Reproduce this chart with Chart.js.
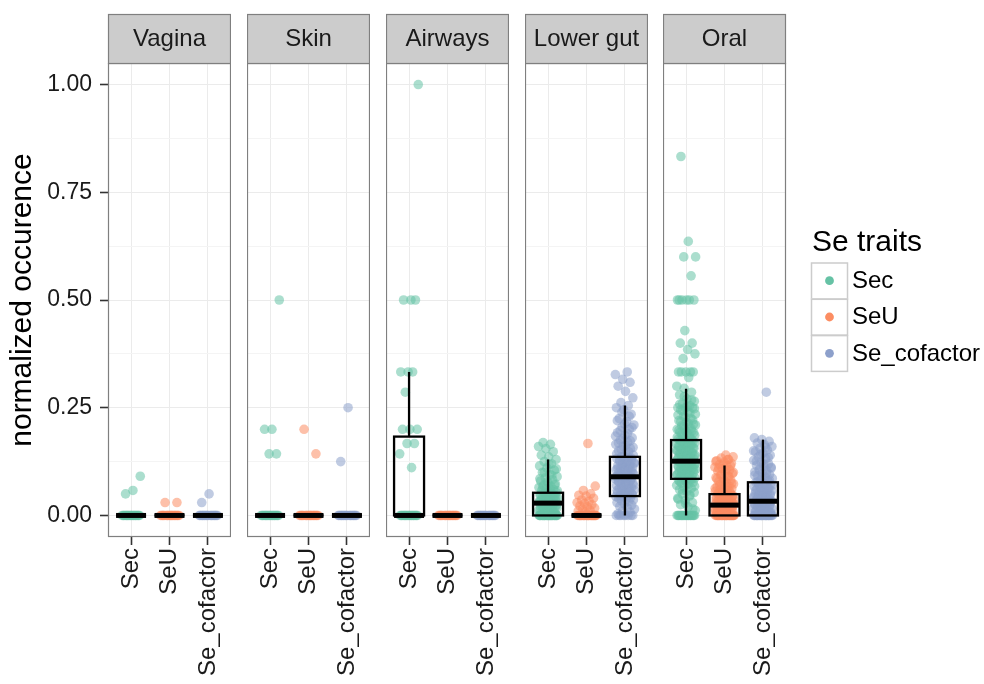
<!DOCTYPE html>
<html><head><meta charset="utf-8">
<script src="https://cdn.jsdelivr.net/npm/chart.js@4.4.1/dist/chart.umd.min.js"></script>
<style>
html,body{margin:0;padding:0;background:#fff;}
#wrap{position:relative;width:984px;height:684px;overflow:hidden;background:#fff;}
#wrap canvas{position:absolute;top:0;}
</style></head><body><div id="wrap"></div>
<script>
// ---------------- data ----------------
const panels = ['Vagina', 'Skin', 'Airways', 'Lower gut', 'Oral'];
const traits = ['Sec', 'SeU', 'Se_cofactor'];
const yMajorTicks = [0, 0.25, 0.5, 0.75, 1];
const yMinorTicks = [0.125, 0.375, 0.625, 0.875];
const yTitle = 'normalized occurence';
const legendTitle = 'Se traits';

// point values (normalized occurence) per facet and trait
const vaginaSec = [0,0,0,0,0,0,0,0,0,0,0,0,0,0,0,0,0,0,0,0, 0.091, 0.058, 0.05];
const vaginaSeU = [0,0,0,0,0,0,0,0,0,0,0,0,0,0,0,0,0,0,0,0, 0.03, 0.03];
const vaginaCof = [0,0,0,0,0,0,0,0,0,0,0,0,0,0,0,0,0,0,0,0, 0.05, 0.03];

const skinSec = [0,0,0,0,0,0,0,0,0,0,0,0,0,0,0,0,0,0,0,0, 0.5, 0.2, 0.2, 0.143, 0.143];
const skinSeU = [0,0,0,0,0,0,0,0,0,0,0,0,0,0,0,0,0,0,0,0, 0.2, 0.143];
const skinCof = [0,0,0,0,0,0,0,0,0,0,0,0,0,0,0,0,0,0,0,0, 0.25, 0.125];

const airwaysSec = [0,0,0,0,0,0,0,0,0,0,0,0,0,0,0,0,0,0,0,0, 1.0, 0.5, 0.5, 0.5, 0.333, 0.333, 0.333, 0.286, 0.2, 0.2, 0.2, 0.167, 0.167, 0.143, 0.111];
const airwaysSeU = [0,0,0,0,0,0,0,0,0,0,0,0,0,0,0,0,0,0,0,0];
const airwaysCof = [0,0,0,0,0,0,0,0,0,0,0,0,0,0,0,0,0,0,0,0];

const gutSec = [0,0,0,0,0,0,0,0,0,0,0,0,0,0,0,0,0,0,0,0,0,0,0,0,0,0,0,0,0,0,
  0.005,0.008,0.01,0.012,0.014,0.016,0.018,0.02,0.021,0.022,0.024,0.025,0.026,0.027,0.028,0.029,
  0.03,0.031,0.033,0.034,0.035,0.036,0.038,0.039,0.04,0.042,0.043,0.045,0.046,0.048,0.05,0.051,0.053,
  0.055,0.058,0.06,0.062,0.065,0.067,0.07,0.073,0.076,0.08,0.083,0.087,0.09,0.095,0.1,0.105,0.11,
  0.115,0.12,0.125,0.13,0.136,0.14,0.148,0.155,0.16,0.165,0.169,
  0.006,0.009,0.011,0.013,0.015,0.017,0.019,0.023,0.026,0.029,0.032,0.035,0.037,0.041,0.044,0.047,
  0.049,0.052,0.057,0.061,0.066,0.071,0.078,0.085,0.093,0.1,0.108,0.118];
const gutSeU = [0,0,0,0,0,0,0,0,0,0,0,0,0,0,0,0,0,0,0,0,0,0,0,0,0,0,0,0,0,0,
  0.008,0.01,0.012,0.015,0.017,0.02,0.022,0.025,0.028,0.03,0.033,0.036,0.04,0.045,0.047,0.05,0.058,0.068,0.167];
const gutCof = [0,0,0,0,0,0,0,0,
  0.004,0.008,0.012,0.015,0.018,0.021,0.024,0.027,0.03,0.032,0.034,0.036,0.038,0.04,0.041,0.043,0.044,0.045,
  0.047,0.049,0.051,0.053,0.055,0.057,0.059,0.061,0.063,0.065,0.067,0.069,0.071,0.073,0.075,0.077,0.079,
  0.081,0.083,0.085,0.086,0.087,0.088,0.089,0.09,
  0.092,0.094,0.096,0.098,0.1,0.102,0.104,0.106,0.108,0.11,0.112,0.114,0.116,0.118,0.12,0.122,0.124,
  0.126,0.128,0.13,0.132,0.134,0.136,
  0.14,0.145,0.15,0.155,0.16,0.165,0.17,0.175,0.18,0.186,0.192,0.2,0.205,0.21,0.218,0.225,0.235,0.245,0.25,0.255,
  0.262,0.273,0.288,0.3,0.309,0.316,0.327,0.333,
  0.046,0.05,0.054,0.058,0.062,0.066,0.07,0.074,0.078,0.082,0.086,0.09,0.093,0.097,0.101,0.105,0.109,
  0.113,0.117,0.121,0.125,0.129,0.133,0.138,0.143,0.148,0.153,0.158,0.163,0.168,0.173,0.178,0.184,
  0.19,0.197,0.204,0.212,0.22,0.23,0.24];

const oralSec = [0,0,0,0,0,0,0,0,0,0,0,0,0,0,0,0,0,0,0,0,
  0.012,0.02,0.025,0.03,0.035,0.04,0.045,0.05,0.053,0.056,0.06,0.063,0.066,0.07,0.072,0.075,0.077,0.08,
  0.082,0.083,0.085,0.087,0.088,0.09,0.091,0.093,0.095,0.096,0.098,0.1,0.1,0.102,0.104,0.105,0.107,0.109,
  0.11,0.111,0.113,0.115,0.116,0.118,0.12,0.121,0.123,0.125,0.125,0.127,0.128,0.13,0.132,0.133,0.135,
  0.137,0.139,0.14,0.142,0.143,0.145,0.147,0.15,0.152,0.154,0.156,0.158,0.16,0.162,0.164,0.166,0.167,
  0.17,0.172,0.175,0.177,0.18,0.183,0.186,0.19,0.193,0.196,0.2,0.2,0.204,0.208,0.212,0.216,0.22,0.225,
  0.23,0.235,0.24,0.245,0.25,0.25,0.25,0.255,0.26,0.265,0.27,0.28,0.286,0.295,0.3,0.32,
  0.333,0.333,0.333,0.333,0.333,0.364,0.375,0.385,0.4,0.4,0.429,
  0.5,0.5,0.5,0.5,0.5,0.5,0.556,0.6,0.6,0.636,0.833,
  0.015,0.028,0.038,0.048,0.058,0.068,0.074,0.079,0.084,0.089,0.094,0.099,0.103,0.106,0.108,0.112,
  0.114,0.117,0.119,0.122,0.124,0.126,0.129,0.131,0.134,0.136,0.138,0.141,0.144,0.146,0.149,0.151,
  0.153,0.155,0.157,0.159,0.161,0.163,0.165,0.168,0.171,0.174,0.176,0.179,0.182,0.185,0.188,0.192,
  0.195,0.198,0.202,0.206,0.21,0.214,0.218,0.222,0.228,0.233,0.238,0.243,0.248,0.252,0.258,0.268,0.276];
const oralSeU = [0,0,0,0,0,0,0,0,0,0,0,0,0,0,0,0,0,0,0,0,0,0,0,0,0,0,0,0,0,0,
  0.003,0.005,0.007,0.009,0.01,0.011,0.012,0.013,0.014,0.015,0.016,0.017,0.018,0.019,0.02,0.021,0.022,
  0.023,0.024,0.025,0.026,0.027,0.028,0.029,0.03,0.031,0.032,0.033,0.034,0.035,0.036,0.037,0.038,0.04,
  0.041,0.042,0.044,0.045,0.046,0.048,0.05,0.052,0.054,0.056,0.058,0.06,0.062,0.064,0.066,0.068,0.07,
  0.073,0.076,0.079,0.082,0.085,0.088,0.091,0.094,0.097,0.1,0.103,0.106,0.109,0.112,0.115,0.118,0.121,
  0.124,0.127,0.13,0.133,0.136,0.14,
  0.004,0.006,0.008,0.011,0.013,0.015,0.017,0.019,0.021,0.023,0.025,0.027,0.029,0.031,0.033,0.035,
  0.037,0.039,0.042,0.045,0.048,0.051,0.055,0.059,0.063,0.067,0.071,0.075,0.08,0.085,0.09,0.095,
  0.1,0.105,0.11,0.115,0.12,0.125,0.13];
const oralCof = [0,0,0,0,0,0,0,0,0,0,0,0,0,0,0,0,0,0,0,0,0,0,0,0,0,0,
  0.003,0.006,0.008,0.01,0.012,0.014,0.016,0.018,0.02,0.022,0.024,0.026,0.028,0.03,0.032,0.033,
  0.035,0.037,0.039,0.041,0.043,0.045,0.047,0.049,0.051,0.053,0.055,0.057,0.059,0.061,0.063,0.065,
  0.067,0.069,0.071,0.073,0.075,0.077,0.08,0.083,0.086,0.089,0.092,0.095,0.098,0.101,0.104,0.107,
  0.11,0.113,0.116,0.12,0.124,0.128,0.132,0.136,0.14,0.144,0.148,0.152,0.156,0.16,0.164,0.168,0.172,
  0.176,0.18,0.286,
  0.004,0.007,0.009,0.011,0.013,0.015,0.017,0.019,0.021,0.023,0.025,0.027,0.029,0.031,0.034,0.036,
  0.038,0.04,0.042,0.044,0.046,0.048,0.05,0.054,0.058,0.062,0.066,0.07,0.074,0.078,0.082,0.087,
  0.093,0.099,0.105,0.112,0.119,0.126,0.134,0.142,0.15,0.158];

// boxplot statistics per trait: [lower whisker, Q1, median, Q3, upper whisker]
const boxVagina  = [[0,0,0,0,0],[0,0,0,0,0],[0,0,0,0,0]];
const boxSkin    = [[0,0,0,0,0],[0,0,0,0,0],[0,0,0,0,0]];
const boxAirways = [[0,0,0,0.183,0.333],[0,0,0,0,0],[0,0,0,0,0]];
const boxGut     = [[0,0,0.0286,0.0527,0.13],[0,0,0,0,0],[0,0.045,0.0898,0.136,0.255]];
const boxOral    = [[0,0.085,0.126,0.175,0.294],[0,0,0.024,0.0495,0.116],[0,0,0.033,0.077,0.176]];

const pointSets = [
  [vaginaSec, vaginaSeU, vaginaCof],
  [skinSec, skinSeU, skinCof],
  [airwaysSec, airwaysSeU, airwaysCof],
  [gutSec, gutSeU, gutCof],
  [oralSec, oralSeU, oralCof]
];
const boxSets = [boxVagina, boxSkin, boxAirways, boxGut, boxOral];

// ---------------- style / layout ----------------
const FONT = "'Liberation Sans', Arial, Helvetica, sans-serif";
const colors = ['#66c2a5', '#fc8d62', '#8da0cb'];
const fills = ['rgba(102,194,165,0.55)', 'rgba(252,141,98,0.55)', 'rgba(141,160,203,0.55)'];
const panelLeft = [108, 247, 386, 525, 663];
const panelW = 123;
const PLOT_TOP = 63, X_AXIS_H = 147, STRIP_TOP = 14;
const JITTER = 0.25, BOX_HALF = 0.39;

function jitter(i, k) {
  const f = ((i + 1) * 0.6180339887 + k * 0.29) % 1;
  return (f - 0.5) * 2 * JITTER;
}

const wrap = document.getElementById('wrap');

panels.forEach((name, p) => {
  const canvasLeft = p === 0 ? 0 : panelLeft[p];
  const canvasW = p === 0 ? panelLeft[0] + panelW : (p === 4 ? 984 - panelLeft[4] : panelW);
  const cv = document.createElement('canvas');
  cv.width = canvasW; cv.height = 684;
  cv.style.left = canvasLeft + 'px';
  cv.style.width = canvasW + 'px'; cv.style.height = '684px';
  wrap.appendChild(cv);

  const datasets = traits.map((t, k) => ({
    label: t,
    data: pointSets[p][k].map((v, i) => ({ x: k + 1 + jitter(i, k), y: v })),
    backgroundColor: fills[k],
    borderWidth: 0,
    pointRadius: 4.8,
    pointHoverRadius: 4.8,
    pointBorderWidth: 0
  }));

  const facetPlugin = {
    id: 'facet' + p,
    afterDatasetsDraw(chart) {
      const { ctx, chartArea: a, scales: { x, y } } = chart;
      ctx.save();
      ctx.beginPath(); ctx.rect(a.left, a.top, a.right - a.left, a.bottom - a.top); ctx.clip();
      ctx.strokeStyle = '#000';
      ctx.lineCap = 'butt';
      boxSets[p].forEach((s, k) => {
        const cx = x.getPixelForValue(k + 1);
        const x0 = x.getPixelForValue(k + 1 - BOX_HALF), x1 = x.getPixelForValue(k + 1 + BOX_HALF);
        const [lo, q1, med, q3, hi] = s.map(v => y.getPixelForValue(v));
        ctx.lineWidth = 2.3;
        ctx.beginPath();
        ctx.moveTo(cx, q3); ctx.lineTo(cx, hi);
        ctx.moveTo(cx, q1); ctx.lineTo(cx, lo);
        ctx.stroke();
        ctx.strokeRect(x0, q3, x1 - x0, q1 - q3);
        ctx.lineWidth = 5;
        ctx.beginPath(); ctx.moveTo(x0, med); ctx.lineTo(x1, med); ctx.stroke();
      });
      ctx.restore();
    },
    afterDraw(chart) {
      const { ctx, chartArea: a } = chart;
      ctx.save();
      // panel border
      ctx.strokeStyle = '#7f7f7f'; ctx.lineWidth = 1.2;
      ctx.strokeRect(a.left + 0.5, a.top + 0.5, a.right - a.left - 1, a.bottom - a.top - 1);
      // strip
      ctx.fillStyle = '#cccccc';
      ctx.fillRect(a.left, STRIP_TOP, a.right - a.left, a.top - STRIP_TOP);
      ctx.strokeRect(a.left + 0.5, STRIP_TOP + 0.5, a.right - a.left - 1, a.top - STRIP_TOP);
      ctx.fillStyle = '#1a1a1a';
      ctx.font = '24px ' + FONT;
      ctx.textAlign = 'center'; ctx.textBaseline = 'middle';
      ctx.fillText(name, (a.left + a.right) / 2, (STRIP_TOP + a.top) / 2 + 1);
      // legend (last panel only)
      if (p === 4) {
        const lx = a.right + 25;
        ctx.textAlign = 'left';
        ctx.fillStyle = '#000';
        ctx.font = '30px ' + FONT;
        ctx.fillText(legendTitle, lx + 1, 243);
        ctx.font = '24px ' + FONT;
        traits.forEach((t, k) => {
          const top = 262.5 + k * 36.3;
          ctx.fillStyle = '#fff';
          ctx.fillRect(lx, top, 36.5, 36.3);
          ctx.strokeStyle = '#cccccc'; ctx.lineWidth = 1.5;
          ctx.strokeRect(lx + 0.5, top + 0.5, 36, 35.8);
          ctx.fillStyle = colors[k];
          ctx.beginPath(); ctx.arc(lx + 18.5, top + 18.2, 4.4, 0, Math.PI * 2); ctx.fill();
          ctx.fillStyle = '#000';
          ctx.fillText(t, lx + 41, top + 19);
        });
      }
      ctx.restore();
    }
  };

  const isMajor = v => yMajorTicks.some(m => Math.abs(m - v) < 1e-9);

  new Chart(cv, {
    type: 'scatter',
    data: { datasets },
    plugins: [facetPlugin],
    options: {
      responsive: false,
      animation: false,
      devicePixelRatio: 1,
      events: [],
      layout: { autoPadding: false, padding: { top: PLOT_TOP, left: 0, bottom: 0, right: p === 4 ? canvasW - panelW : 0 } },
      plugins: { legend: { display: false }, tooltip: { enabled: false } },
      scales: {
        x: {
          type: 'linear', min: 0.4, max: 3.6,
          afterBuildTicks: s => { s.ticks = traits.map((t, k) => ({ value: k + 1 })); },
          afterFit: s => { s.height = X_AXIS_H; s.paddingLeft = 0; s.paddingRight = 0; },
          ticks: {
            autoSkip: false, minRotation: 90, maxRotation: 90, padding: 3,
            color: '#1a1a1a', font: { family: FONT, size: 24 },
            callback: (v, i) => traits[i]
          },
          grid: { color: '#ebebeb', lineWidth: 1, tickLength: 8, tickColor: '#333', tickWidth: 1.6 },
          border: { display: false }
        },
        y: {
          type: 'linear', min: -0.05, max: 1.05,
          afterBuildTicks: s => { s.ticks = yMajorTicks.concat(yMinorTicks).sort((a, b) => a - b).map(v => ({ value: v })); },
          afterFit: s => { s.width = p === 0 ? panelLeft[0] : 0; s.paddingTop = 0; s.paddingBottom = 0; },
          ticks: {
            display: p === 0, autoSkip: false, padding: 8,
            color: '#1a1a1a', font: { family: FONT, size: 23 },
            callback: v => isMajor(v) ? v.toFixed(2) : ''
          },
          grid: {
            color: c => (c.tick && isMajor(c.tick.value)) ? '#ebebeb' : '#f4f4f4',
            lineWidth: 1, drawTicks: p === 0, tickLength: 8, tickWidth: 1.6,
            tickColor: c => (c.tick && isMajor(c.tick.value)) ? '#333' : 'rgba(0,0,0,0)'
          },
          border: { display: false },
          title: p === 0 ? {
            display: true, text: yTitle, color: '#000',
            font: { family: FONT, size: 30 }, padding: { top: 5, bottom: 0 }
          } : { display: false }
        }
      }
    }
  });
});
</script>
</body></html>
